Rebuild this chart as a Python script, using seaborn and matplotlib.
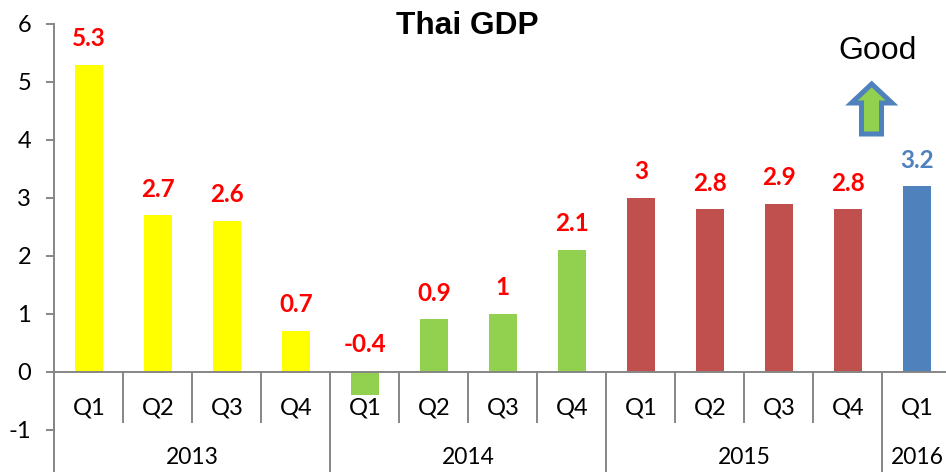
import matplotlib
matplotlib.use("Agg")
import matplotlib.pyplot as plt
import seaborn as sns
import pandas as pd
from matplotlib.patches import Polygon
from matplotlib.transforms import Affine2D

quarters = ["Q1","Q2","Q3","Q4","Q1","Q2","Q3","Q4","Q1","Q2","Q3","Q4","Q1"]
years = ["2013"]*4 + ["2014"]*4 + ["2015"]*4 + ["2016"]
values = [5.3,2.7,2.6,0.7,-0.4,0.9,1,2.1,3,2.8,2.9,2.8,3.2]
value_labels = ["5.3","2.7","2.6","0.7","-0.4","0.9","1","2.1","3","2.8","2.9","2.8","3.2"]
year_colors = {"2013":"#FFFF00","2014":"#92D050","2015":"#C0504D","2016":"#4F81BD"}
label_colors = {"2013":"#FF0000","2014":"#FF0000","2015":"#FF0000","2016":"#4F81BD"}
yticks = [-1,0,1,2,3,4,5,6]

sns.set_theme(style="white")
plt.rcParams["axes.unicode_minus"] = False
W, H = 946, 472
GRAY = "#868686"
FONT = "Lato"
fig = plt.figure(figsize=(W/100, H/100), dpi=100)
x0, x1, ytop, ybot = 54.4, 951.4, 24.0, 429.5
ax = fig.add_axes([x0/W, 1-ybot/H, (x1-x0)/W, (ybot-ytop)/H])
ax.patch.set_alpha(0)

df = pd.DataFrame({"slot":[f"{y} {q}" for y,q in zip(years,quarters)],
                   "year":years, "value":values})
sns.barplot(data=df, x="slot", y="value", hue="year", palette=year_colors,
            dodge=False, width=0.406, legend=False, ax=ax, saturation=1, linewidth=0)
ax.set_xlim(-0.5, 12.5)
ax.set_ylim(-1, 6)
ax.set_xlabel(""); ax.set_ylabel("")
for s in ["top","right"]:
    ax.spines[s].set_visible(False)
ax.spines["bottom"].set_position(("data",0))
for s in ["left","bottom"]:
    ax.spines[s].set_color(GRAY); ax.spines[s].set_linewidth(1.4)
ax.set_yticks(yticks)
ax.tick_params(axis="y", length=5.8, width=1.4, color=GRAY, left=True, pad=11,
               labelsize=17, labelcolor="black")
for t in ax.get_yticklabels():
    t.set_fontfamily(FONT)
ax.set_xticks([])

n = len(values)
for i, q in enumerate(quarters):
    ax.text(i, -0.63, q, ha="center", va="center", fontsize=17, family=FONT, color="black")
for i in range(1, n):
    if years[i] == years[i-1]:
        ax.plot([i-0.5, i-0.5], [0, -0.88], color=GRAY, lw=1.4, clip_on=False, solid_capstyle="butt")
uy = list(dict.fromkeys(years))
for y in uy:
    idx = [i for i, v in enumerate(years) if v == y]
    ax.text((idx[0]+idx[-1])/2, -1.49, y, ha="center", va="center", fontsize=16.5, family=FONT, color="black")
    ax.plot([idx[0]-0.5]*2, [0, -1.75], color=GRAY, lw=1.4, clip_on=False, solid_capstyle="butt")

for i, (v, l, y) in enumerate(zip(values, value_labels, years)):
    ypos = v + 0.45 if v >= 0 else 0.46
    ax.text(i, ypos, l, ha="center", va="center", fontsize=17.5,
            family=FONT, fontweight="bold", color=label_colors[y])

fig.text(467/W, 1-26/H, "Thai GDP", ha="center", va="center", fontsize=22.8,
         family="Liberation Sans", fontweight="bold", color="black")
fig.text(877.5/W, 1-51/H, "Good", ha="center", va="center", fontsize=23,
         family="Liberation Sans", color="black")

pix = Affine2D().scale(1, -1).translate(0, H)
arrow = Polygon([(871.7,84),(892,103),(881.5,103),(881.5,134),(861.5,134),(861.5,103),(851.5,103)],
                closed=True, facecolor="#92D050", edgecolor="#4F81BD", linewidth=3.6,
                joinstyle="miter", transform=pix)
fig.add_artist(arrow)

fig.savefig("out.png", dpi=100)
